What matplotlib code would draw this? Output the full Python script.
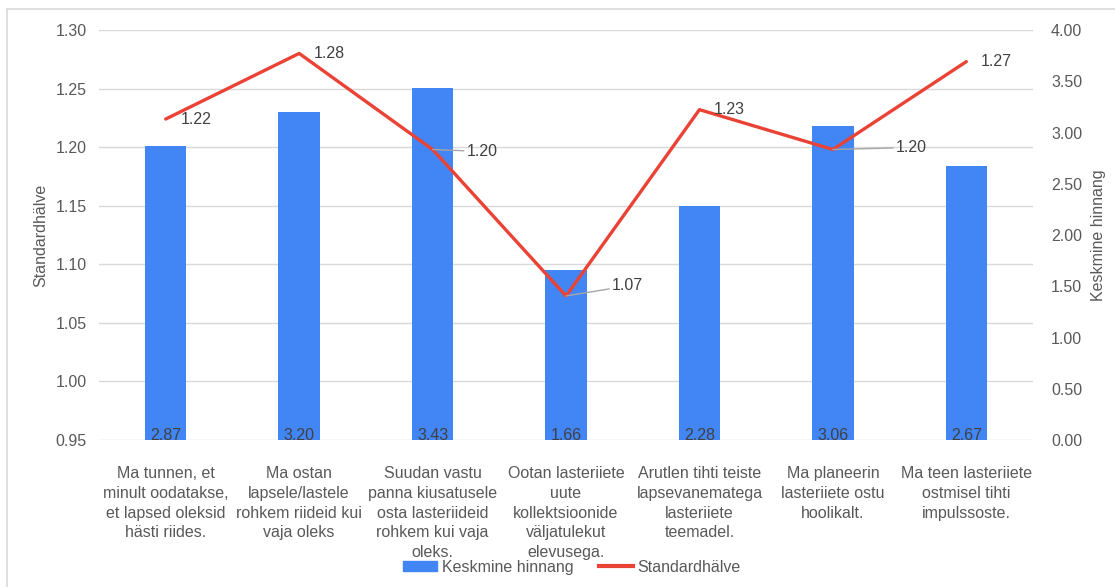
import matplotlib.pyplot as plt
from matplotlib.patches import Patch
from matplotlib.lines import Line2D

plt.rcParams['font.family'] = ['Liberation Sans', 'DejaVu Sans']

# statements (wrapped as in the original)
categories = [
    "Ma tunnen, et\nminult oodatakse,\net lapsed oleksid\nhästi riides.",
    "Ma ostan\nlapsele/lastele\nrohkem riideid kui\nvaja oleks",
    "Suudan vastu\npanna kiusatusele\nosta lasteriideid\nrohkem kui vaja\noleks.",
    "Ootan lasteriiete\nuute\nkollektsioonide\nväljatulekut\nelevusega.",
    "Arutlen tihti teiste\nlapsevanematega\nlasteriiete\nteemadel.",
    "Ma planeerin\nlasteriiete ostu\nhoolikalt.",
    "Ma teen lasteriiete\nostmisel tihti\nimpulssoste.",
]
mean_score = [2.87, 3.20, 3.43, 1.66, 2.28, 3.06, 2.67]   # Keskmine hinnang (right axis)
std_dev = [1.224, 1.280, 1.198, 1.073, 1.232, 1.198, 1.273]  # Standardhälve (left axis)
std_labels = ["1.22", "1.28", "1.20", "1.07", "1.23", "1.20", "1.27"]
left_ticks = [0.95, 1.00, 1.05, 1.10, 1.15, 1.20, 1.25, 1.30]
right_ticks = [0.0, 0.5, 1.0, 1.5, 2.0, 2.5, 3.0, 3.5, 4.0]

BLUE = '#4285F4'
RED = '#EA4335'
TXT = '#595959'
GRID = '#D9D9D9'
FS = 11.5

fig = plt.figure(figsize=(11.15, 5.87), dpi=100)
rect = [0.0888, 0.2504, 0.8377, 0.6985]
x = list(range(len(categories)))

# back axes: left scale + gridlines
ax = fig.add_axes(rect)
ax.set_xlim(-0.5, len(categories) - 0.5)
ax.set_ylim(0.95, 1.30)
ax.set_yticks(left_ticks)
ax.set_yticklabels([f"{t:.2f}" for t in left_ticks])
ax.set_xticks(x)
ax.set_xticklabels(categories, linespacing=1.38)
ax.tick_params(axis='y', length=0, pad=9, labelsize=FS, labelcolor=TXT)
ax.tick_params(axis='x', length=0, pad=19, labelsize=FS, labelcolor=TXT)
ax.grid(axis='y', color=GRID, linewidth=1)
ax.set_axisbelow(True)
for s in ax.spines.values():
    s.set_visible(False)
ax.set_ylabel("Standardhälve", fontsize=FS, color=TXT, labelpad=5)

# bars on right scale
ax2 = ax.twinx()
ax2.set_ylim(0, 4)
ax2.set_yticks(right_ticks)
ax2.set_yticklabels([f"{t:.2f}" for t in right_ticks])
ax2.tick_params(axis='y', length=0, pad=13, labelsize=FS, labelcolor=TXT)
for s in ax2.spines.values():
    s.set_visible(False)
ax2.bar(x, mean_score, width=0.31, color=BLUE)
for xi, v in zip(x, mean_score):
    ax2.annotate(f"{v:.2f}", (xi, 0), xytext=(0, -2), textcoords='offset points',
                 ha='center', va='bottom', fontsize=FS, color='#404040')
ax2.set_ylabel("Keskmine hinnang", fontsize=FS, color=TXT, labelpad=6)

# line on top, same scale as left axis
ax3 = fig.add_axes(rect)
ax3.set_xlim(-0.5, len(categories) - 0.5)
ax3.set_ylim(0.95, 1.30)
ax3.axis('off')
ax3.plot(x, std_dev, color=RED, linewidth=2.4, solid_capstyle='round')

# label offsets in pixels (dx, dy), leader line or not
label_pos = [(15, 0, False), (15, 0, False), (34, -2, True), (46, 10, True),
             (14, 0, False), (63, 2, True), (14, 0, False)]
for xi, v, lab, (dx, dy, lead) in zip(x, std_dev, std_labels, label_pos):
    kw = {}
    if lead:
        kw['arrowprops'] = dict(arrowstyle='-', color='#A6A6A6', lw=1,
                                shrinkA=0, shrinkB=0)
    ax3.annotate(lab, (xi, v), xytext=(dx * 0.72, dy * 0.72), textcoords='offset points',
                 ha='left', va='center', fontsize=FS, color='#404040', **kw)

# outer border (left and top only visible)
fig.add_artist(Line2D([7 / 1115, 7 / 1115], [0, 1 - 9 / 587], color=GRID, lw=1.2))
fig.add_artist(Line2D([7 / 1115, 1], [1 - 9 / 587, 1 - 9 / 587], color=GRID, lw=1.2))

handles = [Patch(color=BLUE, label="Keskmine hinnang"),
           Line2D([], [], color=RED, lw=3, label="Standardhälve")]
fig.legend(handles=handles, loc='center', bbox_to_anchor=(0.513, 0.034), ncol=2,
           frameon=False, fontsize=FS, labelcolor=TXT, handlelength=2.1,
           handleheight=0.55, handletextpad=0.3, columnspacing=1.6)

fig.savefig('out.png', dpi=100)
